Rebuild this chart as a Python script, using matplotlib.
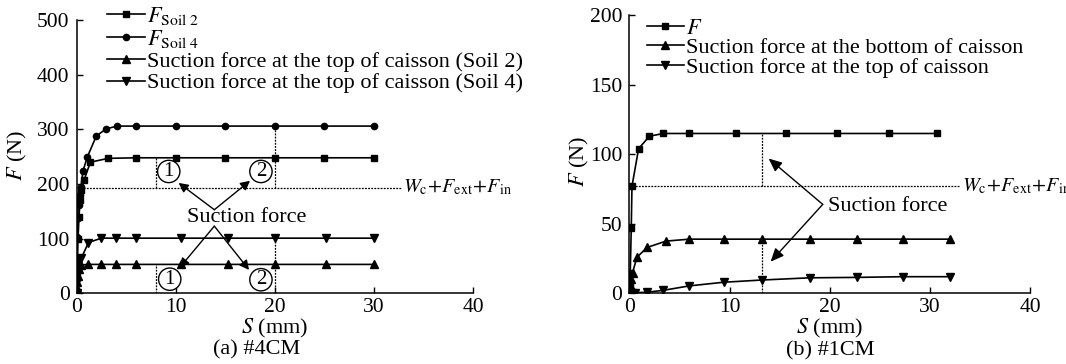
import matplotlib
matplotlib.use("Agg")
import matplotlib.pyplot as plt

plt.rcParams["font.family"] = ["Liberation Serif", "DejaVu Serif"]
plt.rcParams["mathtext.fontset"] = "stix"
plt.rcParams["font.size"] = 16

# ---- (a) #4CM ----
s_soil2 = [0, 0.05, 0.1, 0.15, 0.25, 0.35, 0.5, 0.75, 1.4, 3.2, 6, 10, 15, 20, 25, 30]
f_soil2 = [0, 30, 60, 100, 140, 170, 189, 207, 240, 247, 248, 248, 248, 248, 248, 248]

s_soil4 = [0, 0.02, 0.05, 0.1, 0.2, 0.3, 0.45, 0.65, 1.1, 2.0, 3.0, 4.1, 6, 10, 15, 20, 25, 30]
f_soil4 = [0, 60, 103, 137, 162, 180, 195, 224, 250, 288, 301, 306, 306, 306, 306, 306, 306, 306]

s_top2 = [0, 0.03, 0.06, 0.1, 0.2, 0.5, 1.2, 2.5, 4, 6, 10.5, 15.3, 20, 25.2, 30]
f_top2 = [0, 10, 20, 32, 45, 52, 53, 53, 53, 53, 53, 53, 53, 53, 53]

s_top4 = [0, 0.03, 0.08, 0.15, 0.3, 0.5, 1.2, 2.5, 4, 6, 10.5, 15.3, 20, 25.2, 30]
f_top4 = [0, 20, 40, 58, 62, 65, 93, 101, 101, 101, 101, 101, 101, 101, 101]

w_a = 193          # Wc + Fext + Fin
s_mark_a = [8, 20]  # settlements where suction force is read

# ---- (b) #1CM ----
s_f = [0, 0.05, 0.1, 0.2, 0.27, 0.93, 2.0, 3.4, 6, 10.6, 15.6, 20.7, 25.9, 30.7]
f_f = [0, 5, 15, 47, 77, 104, 113, 115, 115, 115, 115, 115, 115, 115]

s_bot = [0, 0.05, 0.1, 0.2, 0.33, 0.77, 1.77, 3.66, 6, 9.4, 13.2, 18, 22.7, 27.3, 32]
f_bot = [0, 3, 6, 10, 15, 26, 33, 37.6, 39, 39, 39, 39, 39, 39, 39]

s_top = [0, 0.1, 0.3, 0.6, 1.75, 3.4, 6, 9.4, 13.2, 18, 22.7, 27.3, 32]
f_top = [0, 1, 0.5, 0.5, 0.8, 2.2, 5.4, 8, 9.6, 11.2, 11.5, 12, 12]

w_b = 77
s_mark_b = 13.2

W_LABEL = r"$W_{\mathrm{c}}\!+\!F_{\mathrm{ext}}\!+\!F_{\mathrm{in}}$"

fig = plt.figure(figsize=(10.66, 3.64), dpi=100)
ax1 = fig.add_axes([0.0718, 0.194, 0.372, 0.751])
ax2 = fig.add_axes([0.5903, 0.194, 0.3762, 0.764])

line_kw = dict(color="black", lw=1.2, mec="black", mfc="black")


def style_axes(ax, ymax, ystep):
    ax.set_xlim(0, 40)
    ax.set_ylim(0, ymax)
    ax.set_xticks(range(0, 41, 10))
    ax.set_yticks(range(0, ymax + 1, ystep))
    for side in ("top", "right"):
        ax.spines[side].set_visible(False)
    for side in ("left", "bottom"):
        ax.spines[side].set_linewidth(1.1)
    ax.tick_params(direction="in", length=4, width=1.0, labelsize=15.5)
    ax.tick_params(axis="y", pad=5)
    ax.tick_params(axis="x", pad=3)


leg_kw = dict(loc="upper left", frameon=False, handlelength=1.7, handletextpad=0.08,
              borderaxespad=0, borderpad=0, fontsize=16)

# ---- panel (a) ----
ax = ax1
style_axes(ax, 500, 100)
ax.plot(s_soil2, f_soil2, marker="s", ms=4.5, label=r"$F_{\mathrm{Soil\ 2}}$", **line_kw)
ax.plot(s_soil4, f_soil4, marker="o", ms=4.5, label=r"$F_{\mathrm{Soil\ 4}}$", **line_kw)
ax.plot(s_top2, f_top2, marker="^", ms=5.5,
        label="Suction force at the top of caisson (Soil 2)", **line_kw)
ax.plot(s_top4, f_top4, marker="v", ms=5.5,
        label="Suction force at the top of caisson (Soil 4)", **line_kw)

dot_kw = dict(color="black", lw=0.9, ls=(0, (1.5, 1)))
ax.plot([0, 32.7], [w_a, w_a], clip_on=False, **dot_kw)
ax.plot([s_mark_a[0]] * 2, [w_a, f_soil2[-1]], **dot_kw)
ax.plot([s_mark_a[1]] * 2, [w_a, f_soil4[-1]], **dot_kw)
ax.plot([s_mark_a[0]] * 2, [0, f_top2[-1]], **dot_kw)
ax.plot([s_mark_a[1]] * 2, [0, f_top4[-1]], **dot_kw)
ax.text(32.9, w_a, W_LABEL, ha="left", va="center", fontsize=14.5, clip_on=False)

circ = dict(boxstyle="circle,pad=0.08", fc="white", ec="black", lw=1.0)
for (x, y, t) in [(9.3, 223, "1"), (18.6, 223, "2"), (9.4, 26, "1"), (18.6, 25, "2")]:
    ax.text(x, y, t, ha="center", va="center", fontsize=15, bbox=circ, zorder=5)

ax.text(17.2, 139, "Suction force", ha="center", va="center", fontsize=16)
arr = dict(arrowstyle="-|>,head_length=0.35,head_width=0.18", color="black", lw=1.0,
           shrinkA=0, shrinkB=0)
ax.annotate("", xy=(10.3, 202), xytext=(13.9, 153), arrowprops=arr)
ax.annotate("", xy=(17.5, 206), xytext=(13.9, 153), arrowprops=arr)
ax.annotate("", xy=(10.4, 47), xytext=(13.9, 123), arrowprops=arr)
ax.annotate("", xy=(17.4, 43), xytext=(13.9, 123), arrowprops=arr)

ax.legend(bbox_to_anchor=(0.077, 1.055), labelspacing=0.05, **leg_kw)
ax.text(-0.149, 0.506, r"$F$ (N)", rotation=90, ha="center", va="center",
        transform=ax.transAxes, fontsize=16)
ax.text(0.5, -0.127, r"$S$ (mm)", ha="center", va="center", transform=ax.transAxes,
        fontsize=16)
ax.text(0.455, -0.207, "(a) #4CM", ha="center", va="center", transform=ax.transAxes,
        fontsize=16)

# ---- panel (b) ----
ax = ax2
style_axes(ax, 200, 50)
ax.plot(s_f, f_f, marker="s", ms=4.5, label=r"$F$", **line_kw)
ax.plot(s_bot, f_bot, marker="^", ms=5.5,
        label="Suction force at the bottom of caisson", **line_kw)
ax.plot(s_top, f_top, marker="v", ms=5.5,
        label="Suction force at the top of caisson", **line_kw)

ax.plot([0, 33.0], [w_b, w_b], clip_on=False, **dot_kw)
ax.plot([s_mark_b] * 2, [w_b, f_f[-1]], **dot_kw)
ax.plot([s_mark_b] * 2, [0, f_bot[-1]], **dot_kw)
ax.text(33.2, w_b, W_LABEL, ha="left", va="center", fontsize=14.5, clip_on=False)

ax.text(19.8, 62.3, "Suction force", ha="left", va="center", fontsize=16)
arr_b = dict(arrowstyle="-|>,head_length=0.5,head_width=0.22", color="black", lw=1.0,
             shrinkA=0, shrinkB=0)
ax.annotate("", xy=(13.9, 97), xytext=(19.3, 64), arrowprops=arr_b)
ax.annotate("", xy=(14.1, 22.8), xytext=(19.3, 64), arrowprops=arr_b)

ax.legend(bbox_to_anchor=(0.043, 0.99), labelspacing=-0.05, **leg_kw)
ax.text(-0.124, 0.473, r"$F$ (N)", rotation=90, ha="center", va="center",
        transform=ax.transAxes, fontsize=16)
ax.text(0.5, -0.127, r"$S$ (mm)", ha="center", va="center", transform=ax.transAxes,
        fontsize=16)
ax.text(0.5, -0.207, "(b) #1CM", ha="center", va="center", transform=ax.transAxes,
        fontsize=16)

fig.savefig("out.png", dpi=100)
